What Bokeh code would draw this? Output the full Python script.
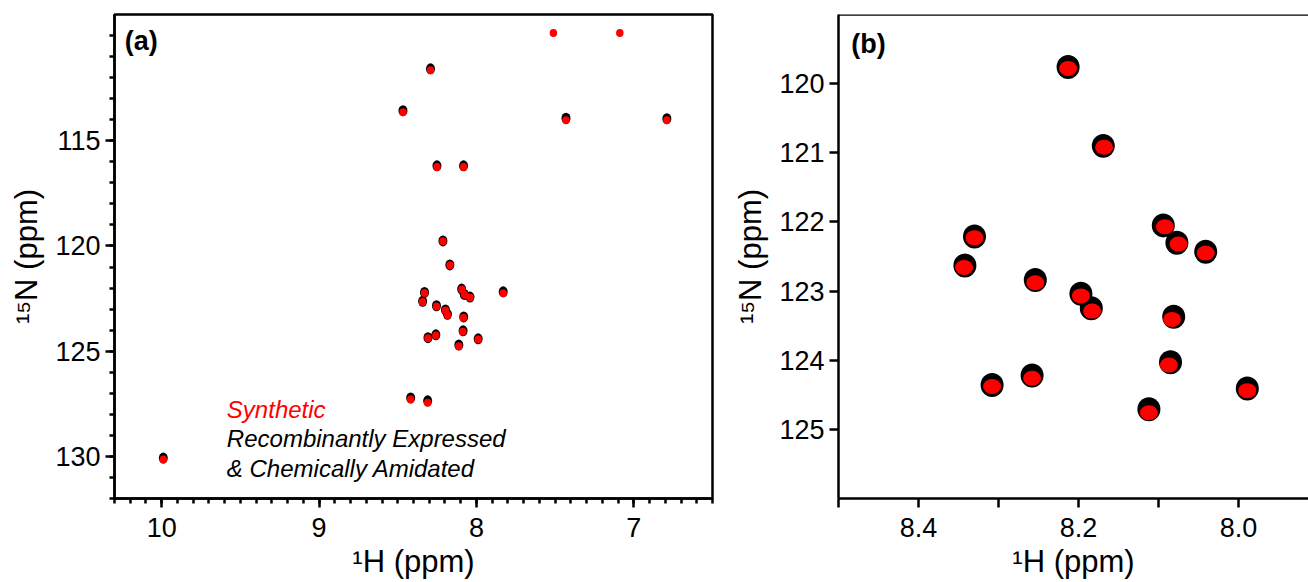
from bokeh.plotting import figure
from bokeh.models import Range1d, FixedTicker, Label, Span, CustomJSTickFormatter
from bokeh.layouts import row
from bokeh.embed import file_html
from bokeh.resources import INLINE

# Recombinantly expressed & chemically amidated (black) peak positions
rec_h = [8.292, 8.467, 7.431, 6.790, 8.251, 8.082, 8.213, 8.169, 8.330, 8.342,
         8.254, 8.197, 8.184, 8.094, 8.077, 8.041, 7.830, 8.081, 8.085, 7.989,
         8.112, 8.258, 8.308, 8.418, 8.310, 9.990]
rec_n = [111.58, 113.57, 113.93, 113.95, 116.19, 116.19, 119.76, 120.90, 122.21, 122.63,
         122.84, 123.04, 123.25, 122.05, 122.30, 122.43, 122.18, 123.37, 124.03, 124.41,
         124.71, 124.22, 124.36, 127.22, 127.36, 130.08]

# Synthetic (red) peak positions
syn_h = [8.292, 8.467, 7.431, 6.790, 8.251, 8.082, 8.213, 8.168, 8.330, 8.343,
         8.254, 8.197, 8.183, 8.092, 8.075, 8.041, 7.830, 8.083, 8.087, 7.989,
         8.112, 8.258, 8.308, 8.418, 8.310, 9.990, 7.511, 7.089]
syn_n = [111.65, 113.65, 114.03, 114.03, 116.25, 116.25, 119.78, 120.92, 122.23, 122.66,
         122.88, 123.07, 123.29, 122.07, 122.32, 122.45, 122.25, 123.41, 124.07, 124.44,
         124.76, 124.26, 124.38, 127.30, 127.45, 130.15, 109.88, 109.88]

# axis ranges / ticks
a_x_range = (10.3, 6.5)
a_y_range = (132.0, 109.0)
a_x_major = [10, 9, 8, 7]
a_x_minor = [round(10.3 - 0.1 * i, 1) for i in range(39)]
a_y_major = [115, 120, 125, 130]
a_y_minor = list(range(110, 133))

b_x_range = (8.5, 7.9125)
b_y_range = (126.0, 119.0)
b_x_major = [8.4, 8.2, 8.0]
b_x_minor = [8.5, 8.3, 8.1, 7.9]
b_y_major = [120, 121, 122, 123, 124, 125]

legend_lines = ["Synthetic", "Recombinantly Expressed", "& Chemically Amidated"]
legend_colors = ["#ff0000", "#000000", "#000000"]

FONT = "Liberation Sans"
TICK_FS = "27px"
LABEL_FS = "31px"


def style_axes(p, xmaj, xmin, ymaj, ymin, minor_len_x, minor_len_y):
    for ax in (p.xaxis[0], p.yaxis[0]):
        ax.axis_label_text_font = FONT
        ax.axis_label_text_font_size = LABEL_FS
        ax.axis_label_text_font_style = "normal"
        ax.major_label_text_font = FONT
        ax.major_label_text_font_size = TICK_FS
        ax.major_label_text_color = "black"
        ax.axis_label_text_color = "black"
        ax.major_tick_line_width = 2.5
        ax.minor_tick_line_width = 2.5
        ax.major_tick_in = 0
        ax.minor_tick_in = 0
        ax.major_tick_out = 9
        ax.axis_line_width = 2.5
        ax.major_tick_line_color = "black"
        ax.minor_tick_line_color = "black"
        ax.axis_line_color = "black"
    p.xaxis[0].ticker = FixedTicker(ticks=xmaj, minor_ticks=xmin)
    p.yaxis[0].ticker = FixedTicker(ticks=ymaj, minor_ticks=ymin)
    p.xaxis[0].minor_tick_out = minor_len_x
    p.yaxis[0].minor_tick_out = minor_len_y
    p.xaxis[0].major_label_standoff = 10
    p.yaxis[0].major_label_standoff = 5
    p.xaxis[0].axis_label_standoff = 4
    p.yaxis[0].axis_label_standoff = 8
    p.xaxis[0].axis_label = "\u00b9H (ppm)"
    p.yaxis[0].axis_label = "\u00b9\u2075N (ppm)"
    p.grid.visible = False


# ---------------- panel (a) ----------------
pa = figure(frame_width=598, frame_height=484, output_backend="svg", toolbar_location=None,
            x_range=Range1d(*a_x_range), y_range=Range1d(*a_y_range),
            min_border_left=114, min_border_right=16, min_border_top=14, min_border_bottom=84)
style_axes(pa, a_x_major, a_x_minor, a_y_major, a_y_minor, 5, 5)
pa.outline_line_color = "black"
pa.outline_line_width = 2.5
pa.outline_line_alpha = 1.0

pa.ellipse(rec_h, rec_n, width=9, height=11, width_units="screen", height_units="screen",
           fill_color="black", line_color=None)
pa.ellipse(syn_h, syn_n, width=7.5, height=8, width_units="screen", height_units="screen",
           fill_color="#ff0000", line_color=None)

pa.add_layout(Label(x=10.235, y=110.28, text="(a)", text_font=FONT, text_font_size="27px",
                    text_font_style="bold", text_color="black",
                    text_baseline="middle", text_align="left"))
for i, (t, c) in enumerate(zip(legend_lines, legend_colors)):
    pa.add_layout(Label(x=9.586, y=127.76 + 1.40 * i, text=t, text_font=FONT,
                        text_font_size="24px", text_font_style="italic", text_color=c,
                        text_baseline="middle", text_align="left"))

# ---------------- panel (b) ----------------
pb = figure(frame_width=470, frame_height=484, output_backend="svg", toolbar_location=None,
            x_range=Range1d(*b_x_range), y_range=Range1d(*b_y_range),
            min_border_left=110, min_border_right=0, min_border_top=14, min_border_bottom=84)
style_axes(pb, b_x_major, b_x_minor, b_y_major, [], 9, 0)
pb.xaxis[0].formatter = CustomJSTickFormatter(code="return tick.toFixed(1);")
pb.outline_line_color = None
pb.add_layout(Span(location=b_y_range[1], dimension="width", line_color="black", line_width=2.5))

pb.ellipse(rec_h, rec_n, width=23, height=24, width_units="screen", height_units="screen",
           fill_color="black", line_color=None)
pb.ellipse(syn_h, syn_n, width=18, height=15, width_units="screen", height_units="screen",
           fill_color="#ff0000", line_color=None)

pb.add_layout(Label(x=8.484, y=119.42, text="(b)", text_font=FONT, text_font_size="27px",
                    text_font_style="bold", text_color="black",
                    text_baseline="middle", text_align="left"))

layout = row(pa, pb)
open("out.html", "w").write(file_html(layout, INLINE))
